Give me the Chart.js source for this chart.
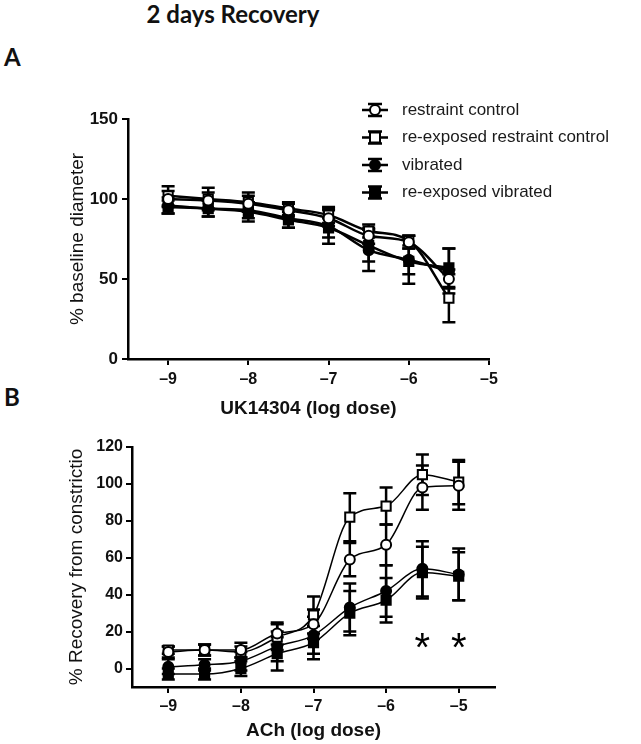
<!DOCTYPE html>
<html>
<head>
<meta charset="utf-8">
<script src="https://cdn.jsdelivr.net/npm/chart.js"></script>
<style>
body { margin: 0; background: #fff; width: 641px; height: 744px; position: relative; overflow: hidden; font-family: "Liberation Sans", Arial, sans-serif; }
.lbl { position: absolute; font-family: Lato, "Open Sans", sans-serif; font-weight: bold; color: #111; }
#title { left: 113px; width: 240px; top: 0px; text-align: center; font-size: 24px; line-height: 28px; }
#labA { left: 4px; top: 43px; font-size: 24px; line-height: 28px; }
#labB { left: 4px; top: 383px; font-size: 24px; line-height: 28px; }
#chartA { position: absolute; left: 0; top: 85px; }
#chartB { position: absolute; left: 0; top: 430px; }
</style>
</head>
<body>
<div id="title" class="lbl">2 days Recovery</div>
<div id="labA" class="lbl">A</div>
<div id="labB" class="lbl">B</div>
<canvas id="chartA" width="641" height="345"></canvas>
<canvas id="chartB" width="641" height="314"></canvas>
<script>
// series names
var seriesNames = ['restraint control', 're-exposed restraint control', 'vibrated', 're-exposed vibrated'];

// panel A: UK14304
var dosesA = [-9, -8.5, -8, -7.5, -7, -6.5, -6, -5.5];
var rcA = [100, 99, 97, 93, 88, 77, 73, 50];
var rercA = [102, 100, 98, 94, 90, 80, 74, 38];
var vibA = [96, 94, 93, 88, 83, 68, 62, 55];
var revibA = [95, 94, 92, 87, 82, 71, 61, 57];
var rcErrA = [5, 5, 5, 4, 5, 5, 4, 6];
var rercErrA = [6, 7, 6, 4, 5, 4, 3, 15];
var vibErrA = [5, 5, 5, 6, 11, 13, 15, 14];
var revibErrA = [4, 5, 6, 5, 6, 10, 8, 12];
var xTicksA = [-9, -8, -7, -6, -5];
var yTicksA = [0, 50, 100, 150];

// panel B: ACh
var dosesB = [-9, -8.5, -8, -7.5, -7, -6.5, -6, -5.5, -5];
var rcB = [9, 10, 10, 19, 24, 59, 67, 98, 99];
var rercB = [10, 10, 9, 17, 29, 82, 88, 105, 101];
var vibB = [1, 2, 4, 12, 18, 33, 42, 54, 51];
var revibB = [-3, -3, 0, 8, 14, 30, 37, 52, 50];
var rcErrB = [3, 3, 4, 6, 8, 9, 11, 12, 13];
var rercErrB = [2, 3, 3, 7, 10, 13, 10, 11, 12];
var vibErrB = [4, 3, 5, 8, 10, 13, 14, 15, 14];
var revibErrB = [3, 3, 4, 9, 9, 12, 12, 14, 13];
var xTicksB = [-9, -8, -7, -6, -5];
var yTicksB = [0, 20, 40, 60, 80, 100, 120];
var sigDosesB = [-5.5, -5];
var sigLevelB = 15;

var styles = [
    { pointStyle: 'circle', fill: '#fff', r: 5 },
    { pointStyle: 'rect', fill: '#fff', r: 6.5 },
    { pointStyle: 'circle', fill: '#000', r: 5 },
    { pointStyle: 'rect', fill: '#000', r: 6.5 }
];

function makeSets(doses, vals, errs, lineW) {
    return vals.map(function (v, i) {
        return {
            label: seriesNames[i],
            data: v.map(function (y, j) { return { x: doses[j], y: y }; }),
            errors: errs[i],
            borderColor: '#000',
            borderWidth: lineW,
            pointStyle: styles[i].pointStyle,
            pointRadius: styles[i].r,
            pointBackgroundColor: styles[i].fill,
            pointBorderColor: '#000',
            pointBorderWidth: 2,
            cubicInterpolationMode: 'monotone',
            fill: false
        };
    });
}

// error bars under the markers
var errorBars = {
    id: 'errorBars',
    beforeDatasetsDraw: function (chart) {
        var ctx = chart.ctx, xs = chart.scales.x, ys = chart.scales.y;
        ctx.save();
        ctx.strokeStyle = '#000';
        ctx.lineWidth = 2.5;
        chart.data.datasets.forEach(function (ds) {
            ds.data.forEach(function (p, j) {
                var e = ds.errors[j];
                var px = xs.getPixelForValue(p.x);
                var t = ys.getPixelForValue(p.y + e), b = ys.getPixelForValue(p.y - e);
                ctx.beginPath();
                ctx.moveTo(px, t); ctx.lineTo(px, b);
                ctx.moveTo(px - 6.5, t); ctx.lineTo(px + 6.5, t);
                ctx.moveTo(px - 6.5, b); ctx.lineTo(px + 6.5, b);
                ctx.stroke();
            });
        });
        ctx.restore();
    }
};

var legendA = {
    id: 'legendA',
    afterDraw: function (chart) {
        var ctx = chart.ctx;
        ctx.save();
        chart.data.datasets.forEach(function (ds, i) {
            var y = 25 + i * 27.5, x = 375;
            ctx.strokeStyle = '#000';
            ctx.lineWidth = 2.5;
            ctx.beginPath();
            ctx.moveTo(x - 13, y); ctx.lineTo(x + 13, y);
            ctx.moveTo(x, y - 6); ctx.lineTo(x, y + 6);
            ctx.moveTo(x - 7, y - 6); ctx.lineTo(x + 7, y - 6);
            ctx.moveTo(x - 7, y + 6); ctx.lineTo(x + 7, y + 6);
            ctx.stroke();
            ctx.lineWidth = 2;
            ctx.fillStyle = styles[i].fill;
            ctx.beginPath();
            if (styles[i].pointStyle === 'circle') ctx.arc(x, y, 5, 0, Math.PI * 2);
            else ctx.rect(x - 5, y - 5, 10, 10);
            ctx.fill(); ctx.stroke();
            ctx.fillStyle = '#1a1a1a';
            ctx.font = '17px "Liberation Sans", Arial, sans-serif';
            ctx.textBaseline = 'middle';
            ctx.fillText(ds.label, 402, y);
        });
        ctx.restore();
    }
};

var stars = {
    id: 'stars',
    afterDatasetsDraw: function (chart) {
        var ctx = chart.ctx, xs = chart.scales.x, ys = chart.scales.y;
        ctx.save();
        ctx.fillStyle = '#000';
        ctx.font = '40px "Liberation Sans", Arial, sans-serif';
        ctx.textAlign = 'center';
        ctx.textBaseline = 'middle';
        sigDosesB.forEach(function (d) {
            ctx.fillText('*', xs.getPixelForValue(d), ys.getPixelForValue(sigLevelB) + 9);
        });
        ctx.restore();
    }
};

function dashLabel(v) { return v < 0 ? '\u2013' + Math.abs(v) : '' + v; }

function makeOptions(o) {
    return {
        responsive: false,
        animation: false,
        layout: { padding: { left: 0, right: o.padRight, top: o.padTop, bottom: 0 } },
        plugins: { legend: { display: false }, tooltip: { enabled: false } },
        scales: {
            x: {
                type: 'linear', min: o.xMin, max: o.xMax,
                afterBuildTicks: function (s) { s.ticks = o.xTicks.map(function (v) { return { value: v }; }); },
                afterFit: function (s) { s.height = o.xH; },
                grid: { drawOnChartArea: false, drawTicks: true, tickLength: 6, color: '#000', lineWidth: 2 },
                border: { display: true, color: '#000', width: 2.5 },
                ticks: { color: '#111', padding: o.xTickPad, font: { family: '"Liberation Sans", Arial', size: 16, weight: 'bold' }, callback: dashLabel },
                title: { display: true, text: o.xTitle, color: '#111', padding: { top: 0, bottom: o.xTitlePad }, font: { family: '"Liberation Sans", Arial', size: 19, weight: 'bold' } }
            },
            y: {
                type: 'linear', min: o.yMin, max: o.yMax,
                afterBuildTicks: function (s) { s.ticks = o.yTicks.map(function (v) { return { value: v }; }); },
                afterFit: function (s) { s.width = o.yW; },
                grid: { drawOnChartArea: false, drawTicks: true, tickLength: 6, color: '#000', lineWidth: 2 },
                border: { display: true, color: '#000', width: 2.5 },
                ticks: { color: '#111', padding: o.yTickPad, font: { family: '"Liberation Sans", Arial', size: o.yTickSize, weight: 'bold' } },
                title: { display: true, text: o.yTitle, color: '#111', padding: { top: o.yTitlePad, bottom: 0 }, font: { family: '"Liberation Sans", Arial', size: 19 } }
            }
        }
    };
}

new Chart(document.getElementById('chartA').getContext('2d'), {
    type: 'line',
    data: { datasets: makeSets(dosesA, [rcA, rercA, vibA, revibA], [rcErrA, rercErrA, vibErrA, revibErrA], 2.5) },
    options: makeOptions({
        padRight: 152, padTop: 34, xMin: -9.5, xMax: -5, yMin: 0, yMax: 150,
        xTicks: xTicksA, yTicks: yTicksA, xH: 71, yW: 128, xTickPad: 5, yTickPad: 4, yTickSize: 17,
        xTitle: 'UK14304 (log dose)', xTitlePad: 10, yTitle: '% baseline diameter', yTitlePad: 66
    }),
    plugins: [errorBars, legendA]
});

new Chart(document.getElementById('chartB').getContext('2d'), {
    type: 'line',
    data: { datasets: makeSets(dosesB, [rcB, rercB, vibB, revibB], [rcErrB, rercErrB, vibErrB, revibErrB], 1.5) },
    options: makeOptions({
        padRight: 146, padTop: 17, xMin: -9.5, xMax: -4.5, yMin: -10, yMax: 120,
        xTicks: xTicksB, yTicks: yTicksB, xH: 57, yW: 132, xTickPad: 4, yTickPad: 3, yTickSize: 16,
        xTitle: 'ACh (log dose)', xTitlePad: 2, yTitle: '% Recovery from constrictio', yTitlePad: 65
    }),
    plugins: [errorBars, stars]
});
</script>
</body>
</html>
